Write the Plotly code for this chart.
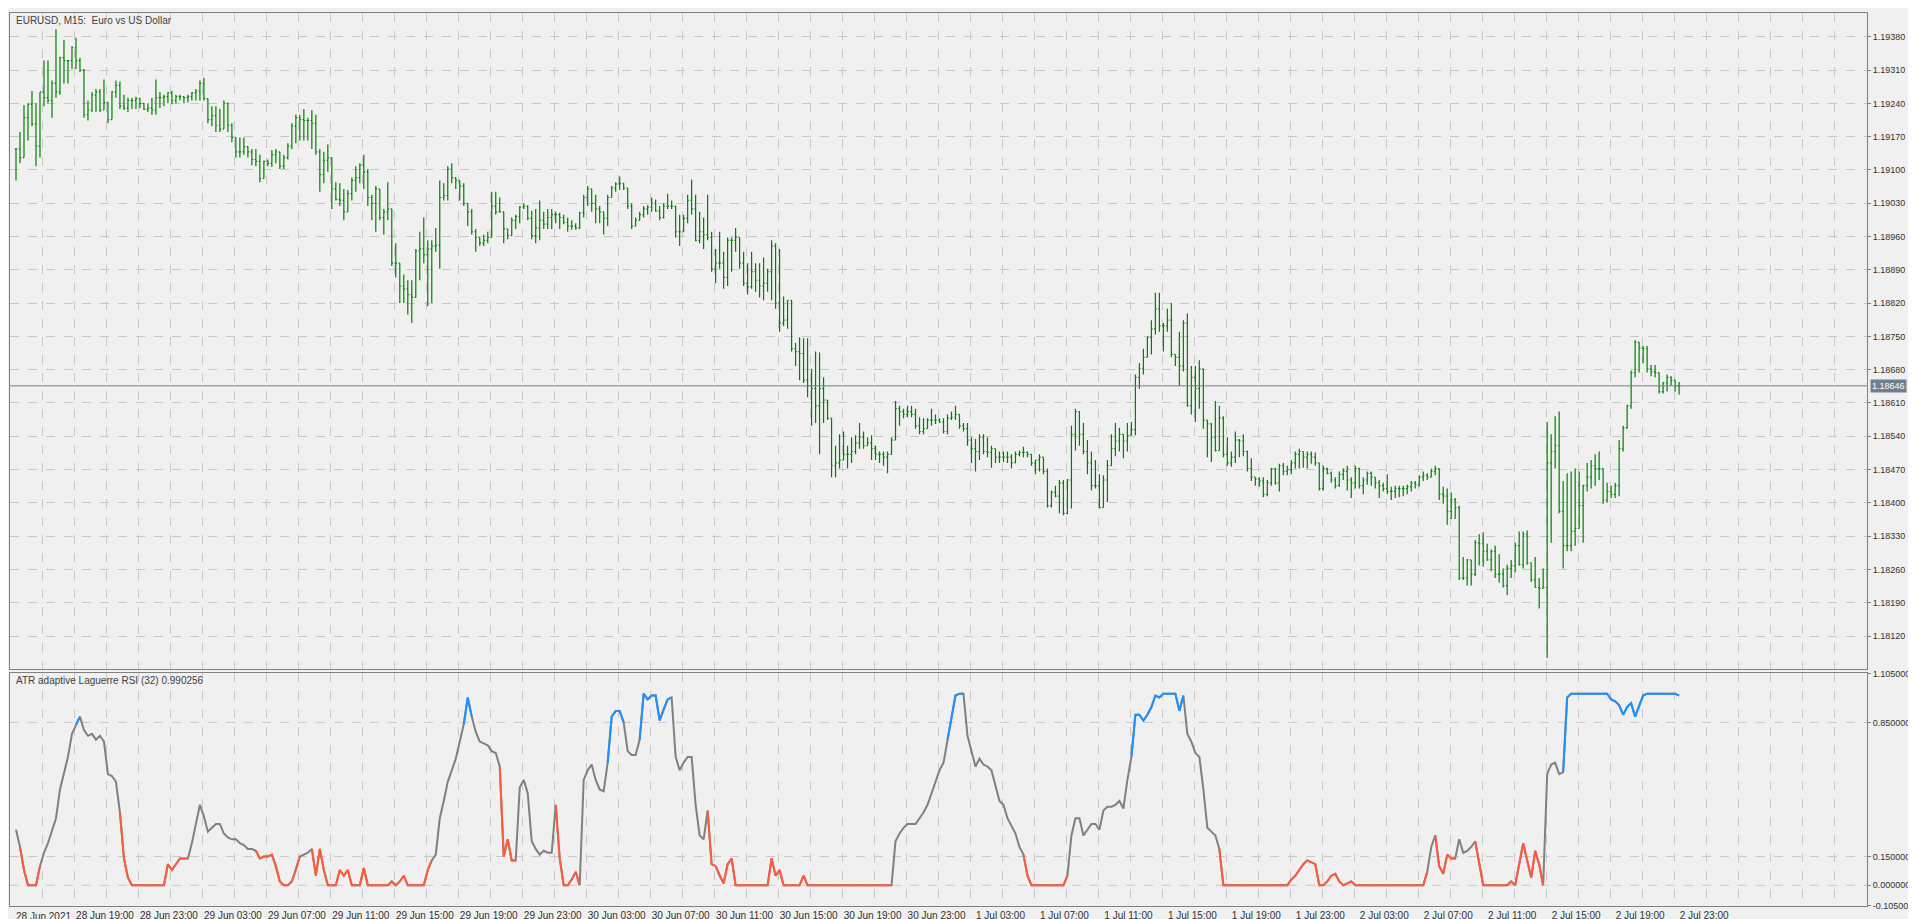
import plotly.graph_objects as go

# EURUSD M15 bars, prices in points (0.00001) above BASE
BASE = 1.18
high_pts = [
    1146, 1180, 1236, 1240, 1266, 1240, 1264, 1330, 1330, 1288, 1396, 1338, 1374, 1331, 1360, 1378, 1336, 1312, 1246, 1264,
    1270, 1270, 1290, 1240, 1266, 1288, 1286, 1258, 1252, 1252, 1254, 1252, 1240, 1240, 1252, 1290, 1264, 1258, 1264, 1266,
    1258, 1258, 1254, 1258, 1264, 1270, 1288, 1294, 1250, 1234, 1234, 1228, 1246, 1242, 1198, 1168, 1168, 1168, 1150, 1144,
    1144, 1132, 1120, 1122, 1142, 1144, 1138, 1132, 1156, 1198, 1216, 1216, 1228, 1210, 1226, 1216, 1144, 1138, 1154, 1126,
    1074, 1072, 1060, 1058, 1084, 1108, 1114, 1132, 1102, 1048, 1066, 1060, 1018, 1074, 1018, 946, 904, 880, 868, 868,
    934, 970, 1000, 952, 952, 978, 1078, 1072, 1108, 1114, 1084, 1078, 1072, 1030, 1018, 976, 958, 964, 970,
    1054, 1054, 1042, 1010, 976, 1000, 1006, 1024, 1030, 1026, 1014, 1018, 1036, 1012, 1018, 1018, 1012, 1010, 1006, 1000,
    994, 988, 1012, 1048, 1066, 1060, 1048, 1024, 1012, 1048, 1066, 1074, 1086, 1072, 1060, 1030, 1000, 1012, 1024, 1026,
    1042, 1038, 1024, 1030, 1050, 1036, 1024, 1006, 1006, 1048, 1080, 1048, 1012, 1000, 1048, 970, 934, 970, 928, 958,
    958, 978, 952, 928, 904, 928, 904, 904, 916, 892, 952, 946, 934, 834, 826, 826, 736, 748, 746, 746,
    682, 718, 716, 664, 616, 574, 520, 544, 550, 520, 538, 542, 568, 550, 538, 542, 520, 508, 508, 508,
    538, 614, 604, 598, 604, 604, 598, 580, 578, 578, 598, 586, 578, 578, 586, 592, 604, 586, 568,
    568, 538, 534, 544, 544, 538, 520, 514, 508, 508, 508, 502, 508, 510, 518, 508, 502, 490, 502, 496,
    472, 426, 436, 448, 448, 450, 562, 598, 592, 568, 532, 508, 490, 460, 458, 490, 544, 568, 558, 544,
    568, 570, 670, 694, 724, 750, 784, 842, 842, 778, 808, 820, 712, 760, 784, 798, 688, 688, 700, 682,
    570, 568, 614, 604, 582, 538, 508, 550, 534, 544, 510, 494, 454, 454, 454, 448, 474, 474, 482, 484,
    478, 490, 508, 514, 508, 508, 508, 506, 484, 478, 474, 466, 454, 466, 472, 478, 454, 478, 474, 454,
    466, 466, 454, 448, 442, 460, 434, 436, 436, 436, 438, 446, 446, 458, 466, 462, 472, 478, 472, 434,
    430, 422, 410, 394, 286, 282, 278, 322, 334, 338, 314, 302, 310, 292, 262, 270, 280, 316, 340, 340,
    342, 274, 286, 242, 262, 570, 544, 582, 592, 446, 462, 466, 472, 466, 438, 484, 490, 502, 508, 448,
    442, 436, 442, 532, 562, 606, 678, 742, 736, 730, 730, 690, 690, 674, 654, 670, 666, 654, 654,
]
low_pts = [
    1078, 1114, 1126, 1162, 1192, 1108, 1126, 1234, 1240, 1210, 1252, 1258, 1282, 1282, 1312, 1312, 1306, 1210, 1204, 1222,
    1222, 1222, 1240, 1198, 1210, 1252, 1228, 1226, 1222, 1228, 1228, 1230, 1226, 1222, 1216, 1216, 1230, 1234, 1240, 1238,
    1240, 1246, 1240, 1242, 1246, 1246, 1246, 1246, 1198, 1192, 1180, 1180, 1192, 1180, 1158, 1126, 1126, 1132, 1126, 1110,
    1108, 1074, 1084, 1108, 1106, 1114, 1102, 1102, 1122, 1144, 1156, 1162, 1162, 1162, 1144, 1132, 1054, 1072, 1096, 1018,
    1036, 1024, 994, 1012, 1036, 1054, 1072, 1060, 1024, 994, 970, 994, 964, 994, 898, 874, 820, 820, 796, 778,
    838, 868, 904, 814, 820, 928, 892, 1036, 1036, 1072, 1060, 1036, 1024, 982, 964, 928, 940, 940, 946,
    1002, 1006, 1012, 946, 954, 962, 976, 988, 1018, 994, 954, 946, 952, 976, 976, 976, 988, 976, 986, 970,
    974, 974, 976, 1000, 1024, 1012, 988, 988, 964, 982, 1042, 1054, 1058, 1058, 1018, 976, 982, 994, 1000, 1006,
    1012, 1012, 994, 998, 1018, 1018, 958, 940, 976, 988, 1006, 950, 946, 934, 952, 886, 862, 892, 850, 856,
    886, 928, 892, 856, 838, 850, 844, 832, 826, 844, 826, 808, 760, 772, 766, 718, 688, 658, 652, 622,
    562, 568, 502, 568, 574, 454, 454, 472, 496, 472, 484, 502, 514, 514, 520, 490, 490, 484, 478, 462,
    502, 532, 562, 578, 580, 580, 556, 544, 544, 556, 562, 566, 568, 546, 544, 574, 574, 556, 550,
    520, 484, 466, 490, 502, 496, 474, 484, 484, 486, 484, 472, 484, 498, 496, 496, 478, 460, 466, 460,
    390, 390, 412, 378, 374, 376, 388, 510, 520, 502, 460, 426, 430, 388, 394, 402, 478, 498, 508, 494,
    508, 544, 542, 640, 670, 706, 712, 754, 760, 718, 760, 706, 688, 646, 676, 602, 586, 570, 598, 556,
    496, 486, 508, 520, 496, 478, 476, 484, 496, 498, 466, 446, 436, 434, 412, 414, 436, 438, 424, 458,
    458, 460, 472, 472, 474, 472, 482, 478, 426, 426, 460, 442, 430, 434, 448, 426, 410, 430, 430, 418,
    438, 436, 430, 410, 424, 418, 406, 410, 412, 414, 418, 424, 430, 434, 446, 448, 454, 458, 406, 398,
    354, 366, 366, 238, 238, 226, 226, 246, 268, 266, 278, 256, 242, 232, 222, 206, 242, 254, 268, 262,
    270, 234, 222, 178, 220, 74, 316, 472, 378, 262, 298, 298, 310, 364, 316, 424, 430, 436, 448, 398,
    400, 410, 410, 414, 508, 556, 598, 664, 674, 694, 674, 666, 664, 630, 630, 634, 646, 634, 628,
]
close_pts = [
    1144, 1126, 1210, 1238, 1197, 1150, 1264, 1252, 1246, 1282, 1264, 1336, 1330, 1330, 1358, 1330, 1310, 1216, 1226, 1258,
    1264, 1226, 1242, 1206, 1264, 1278, 1234, 1230, 1246, 1246, 1250, 1240, 1228, 1230, 1226, 1252, 1252, 1254, 1262, 1246,
    1254, 1254, 1252, 1254, 1262, 1266, 1282, 1250, 1206, 1214, 1194, 1186, 1240, 1194, 1168, 1138, 1138, 1149, 1138, 1122,
    1118, 1082, 1118, 1114, 1132, 1138, 1108, 1126, 1150, 1192, 1210, 1206, 1204, 1204, 1198, 1138, 1090, 1120, 1126, 1060,
    1038, 1036, 1012, 1050, 1078, 1084, 1110, 1096, 1042, 1030, 1060, 1000, 1012, 1018, 904, 904, 856, 850, 838, 832,
    930, 934, 922, 934, 940, 942, 1042, 1046, 1102, 1084, 1078, 1066, 1030, 1012, 970, 958, 946, 952, 958,
    1024, 1012, 1012, 976, 962, 994, 1002, 1022, 1024, 998, 962, 978, 994, 986, 1000, 1006, 1006, 1000, 990, 982,
    982, 978, 1010, 1042, 1060, 1030, 1018, 1012, 998, 1042, 1062, 1070, 1072, 1062, 1024, 982, 994, 1006, 1018, 1022,
    1030, 1014, 1000, 1024, 1024, 1024, 970, 970, 998, 1036, 1018, 952, 970, 964, 958, 892, 904, 904, 874, 952,
    952, 958, 904, 862, 854, 886, 868, 856, 862, 886, 940, 820, 778, 784, 826, 724, 718, 714, 658, 646,
    640, 604, 640, 616, 578, 478, 484, 490, 502, 502, 508, 526, 538, 520, 526, 514, 502, 502, 496, 502,
    532, 598, 592, 586, 592, 586, 562, 550, 556, 574, 574, 574, 570, 550, 578, 580, 586, 562, 556,
    532, 514, 508, 538, 508, 506, 514, 496, 496, 496, 496, 484, 502, 506, 506, 502, 484, 490, 496, 466,
    394, 422, 414, 442, 378, 448, 544, 592, 544, 508, 484, 436, 436, 390, 448, 478, 514, 530, 544, 530,
    542, 554, 664, 682, 706, 748, 766, 808, 772, 772, 784, 712, 706, 688, 778, 604, 664, 640, 682, 574,
    566, 538, 510, 578, 502, 484, 496, 532, 530, 508, 472, 454, 450, 446, 418, 442, 472, 442, 478, 466,
    470, 484, 502, 508, 496, 502, 496, 484, 430, 472, 462, 448, 436, 460, 466, 448, 442, 472, 436, 448,
    462, 454, 442, 436, 430, 424, 424, 430, 430, 430, 434, 442, 438, 454, 458, 454, 466, 472, 418, 414,
    382, 406, 390, 242, 242, 280, 250, 316, 314, 298, 280, 298, 250, 250, 226, 262, 268, 310, 270, 334,
    274, 238, 222, 220, 222, 484, 508, 520, 382, 310, 310, 340, 346, 394, 436, 454, 478, 472, 472, 406,
    424, 418, 436, 514, 558, 604, 674, 738, 726, 724, 682, 676, 674, 634, 652, 664, 658, 646, 646,
]

# ATR adaptive Laguerre RSI (32)
rsi_values = [
    0.29, 0.20, 0.08, 0, 0, 0, 0.10, 0.17, 0.22, 0.29, 0.35, 0.50, 0.58, 0.67, 0.79, 0.84, 0.88, 0.81, 0.78, 0.79,
    0.76, 0.78, 0.75, 0.58, 0.57, 0.54, 0.38, 0.14, 0.04, 0, 0, 0, 0, 0, 0, 0, 0, 0, 0.11, 0.08,
    0.11, 0.14, 0.14, 0.14, 0.22, 0.32, 0.42, 0.36, 0.28, 0.30, 0.32, 0.32, 0.27, 0.25, 0.24, 0.24, 0.22, 0.21, 0.19, 0.19,
    0.18, 0.14, 0.15, 0.15, 0.16, 0.10, 0.02, 0, 0, 0.02, 0.08, 0.15, 0.16, 0.17, 0.19, 0.05, 0.19, 0.08, 0, 0,
    0, 0.08, 0.05, 0.08, 0, 0, 0, 0.09, 0, 0, 0, 0, 0, 0, 0.02, 0, 0.02, 0.05, 0, 0,
    0, 0, 0, 0.08, 0.13, 0.16, 0.35, 0.44, 0.54, 0.60, 0.66, 0.75, 0.84, 0.98, 0.88, 0.80, 0.75, 0.74, 0.73,
    0.70, 0.69, 0.62, 0.15, 0.24, 0.13, 0.13, 0.51, 0.55, 0.48, 0.23, 0.19, 0.16, 0.18, 0.17, 0.17, 0.42, 0.14, 0, 0,
    0.03, 0.07, 0, 0.55, 0.60, 0.63, 0.55, 0.50, 0.49, 0.64, 0.88, 0.91, 0.91, 0.85, 0.70, 0.68, 0.68, 0.76, 1.00, 0.97,
    0.99, 0.99, 0.86, 0.92, 0.97, 0.98, 0.67, 0.60, 0.64, 0.67, 0.67, 0.42, 0.26, 0.24, 0.39, 0.11, 0.10, 0.05, 0.01, 0.11,
    0.14, 0, 0, 0, 0, 0, 0, 0, 0, 0, 0.14, 0.05, 0.08, 0, 0, 0, 0, 0, 0.05, 0,
    0, 0, 0, 0, 0, 0, 0, 0, 0, 0, 0, 0, 0, 0, 0, 0, 0, 0, 0, 0,
    0, 0.23, 0.27, 0.30, 0.32, 0.32, 0.32, 0.35, 0.38, 0.42, 0.48, 0.54, 0.60, 0.64, 0.76, 0.88, 0.99, 1.00, 1.00,
    0.78, 0.70, 0.62, 0.66, 0.63, 0.62, 0.60, 0.52, 0.44, 0.42, 0.35, 0.31, 0.27, 0.20, 0.16, 0.05, 0, 0, 0, 0,
    0, 0, 0, 0, 0, 0.05, 0.26, 0.35, 0.35, 0.26, 0.29, 0.32, 0.32, 0.29, 0.39, 0.41, 0.41, 0.42, 0.44, 0.40,
    0.55, 0.67, 0.89, 0.89, 0.86, 0.89, 0.93, 0.99, 0.98, 1.00, 1.00, 1.00, 1.00, 0.91, 0.99, 0.79, 0.75, 0.69, 0.67, 0.50,
    0.30, 0.28, 0.26, 0.19, 0, 0, 0, 0, 0, 0, 0, 0, 0, 0, 0, 0, 0, 0, 0, 0,
    0, 0.03, 0.05, 0.08, 0.11, 0.13, 0.12, 0.11, 0, 0, 0.02, 0.05, 0.06, 0.02, 0, 0.01, 0.02, 0, 0, 0,
    0, 0, 0, 0, 0, 0, 0, 0, 0, 0, 0, 0, 0, 0, 0, 0.07, 0.20, 0.26, 0.10, 0.06,
    0.16, 0.14, 0.14, 0.24, 0.17, 0.18, 0.20, 0.23, 0.11, 0, 0, 0, 0, 0, 0, 0, 0.02, 0, 0.11, 0.22,
    0.13, 0.04, 0.18, 0.11, 0, 0.58, 0.63, 0.64, 0.58, 0.59, 0.98, 1.00, 1.00, 1.00, 1.00, 1.00, 1.00, 1.00, 1.00, 1.00,
    1.00, 0.97, 0.96, 0.94, 0.89, 0.93, 0.95, 0.88, 0.93, 0.99, 1.00, 1.00, 1.00, 1.00, 1.00, 1.00, 1.00, 1.00, 0.99,
]

time_labels = [
    "28 Jun 19:00", "28 Jun 23:00", "29 Jun 03:00", "29 Jun 07:00", "29 Jun 11:00", "29 Jun 15:00",
    "29 Jun 19:00", "29 Jun 23:00", "30 Jun 03:00", "30 Jun 07:00", "30 Jun 11:00", "30 Jun 15:00",
    "30 Jun 19:00", "30 Jun 23:00", "1 Jul 03:00", "1 Jul 07:00", "1 Jul 11:00", "1 Jul 15:00",
    "1 Jul 19:00", "1 Jul 23:00", "2 Jul 03:00", "2 Jul 07:00", "2 Jul 11:00", "2 Jul 15:00",
    "2 Jul 19:00", "2 Jul 23:00",
]
price_ticks = [1.18120, 1.18190, 1.18260, 1.18330, 1.18400, 1.18470, 1.18540, 1.18610, 1.18680,
               1.18750, 1.18820, 1.18890, 1.18960, 1.19030, 1.19100, 1.19170, 1.19240, 1.19310, 1.19380]
rsi_ticks = [-0.105, 0.0, 0.15, 0.85, 1.105]
last_price = 1.18646

n = len(close_pts)
idx = list(range(n))
close = [BASE + p / 1e5 for p in close_pts]
high = [BASE + p / 1e5 for p in high_pts]
low = [BASE + p / 1e5 for p in low_pts]
opens = [close[0]] + close[:-1]
high = [max(h, o, c) for h, o, c in zip(high, opens, close)]
low = [min(l, o, c) for l, o, c in zip(low, opens, close)]

GREEN = "#008000"
GRID = "#c8c8c8"
FRAME = "#808080"
FONT = "Liberation Sans, Arial"

fig = go.Figure()
fig.add_trace(go.Ohlc(
    x=idx, open=opens, high=high, low=low, close=close,
    increasing=dict(line=dict(color=GREEN, width=1.2)),
    decreasing=dict(line=dict(color=GREEN, width=1.2)),
    tickwidth=0.3, xaxis="x2", yaxis="y2", hoverinfo="skip",
))

# colour the indicator line by level
def colour(v):
    if v >= 0.85:
        return "blue"
    if v <= 0.15:
        return "red"
    return "gray"

cols = [colour(v) for v in rsi_values]
fig.add_trace(go.Scatter(x=idx, y=rsi_values, mode="lines",
                         line=dict(color="#808080", width=2), hoverinfo="skip"))
for name, c in [("red", "#ff5a3c"), ("blue", "#1e90ff")]:
    ys = [None] * n
    for i in range(n):
        if cols[i] == name:
            ys[i] = rsi_values[i]
            if i > 0:
                ys[i - 1] = rsi_values[i - 1]
    fig.add_trace(go.Scatter(x=idx, y=ys, mode="lines", connectgaps=False,
                             line=dict(color=c, width=2), hoverinfo="skip"))

grid_x = [6.75 + 8 * k for k in range(58)]
grid_text = []
for k in range(len(grid_x)):
    if k % 2 == 1 and k // 2 < len(time_labels):
        grid_text.append(time_labels[k // 2])
    else:
        grid_text.append("")

xcommon = dict(range=[-1.5, 463], showgrid=True, gridcolor=GRID, griddash="dash",
               tickvals=grid_x, zeroline=False, showline=True, linecolor=FRAME,
               mirror=True)
fig.update_layout(
    width=1916, height=919,
    paper_bgcolor="#f0f0f0", plot_bgcolor="#f0f0f0",
    margin=dict(l=1, r=57, t=2, b=21),
    showlegend=False,
    font=dict(family=FONT, size=10, color="#303030"),
    xaxis=dict(xcommon, domain=[0, 1], ticktext=grid_text, anchor="y",
               ticks="", ticklabelshift=30, tickfont=dict(size=10)),
    xaxis2=dict(xcommon, domain=[0, 1], ticktext=[""] * len(grid_x), anchor="y2",
                matches="x", showticklabels=False),
    yaxis=dict(domain=[0, 0.261], range=[-0.108, 1.108], side="right",
               tickvals=rsi_ticks, ticktext=["%.6f" % v for v in rsi_ticks],
               showgrid=False, zeroline=False, showline=True, linecolor=FRAME,
               mirror=True, ticks="outside", ticklen=3, tickcolor=FRAME,
               tickfont=dict(size=9)),
    yaxis2=dict(domain=[0.2656, 1], range=[1.18051, 1.19430], side="right",
                tickvals=price_ticks, ticktext=["%.5f" % v for v in price_ticks],
                showgrid=True, gridcolor=GRID, griddash="dash", zeroline=False,
                showline=True, linecolor=FRAME, mirror=True, ticks="outside",
                ticklen=3, tickcolor=FRAME, tickfont=dict(size=9)),
)
fig.update_xaxes(rangeslider_visible=False)

for lv in [0.0, 0.15, 0.85]:
    fig.add_shape(type="line", xref="x domain", yref="y", x0=0, x1=1, y0=lv, y1=lv,
                  line=dict(color=GRID, width=1, dash="dash"), layer="below")

fig.add_shape(type="line", xref="x2 domain", yref="y2", x0=0, x1=1, y0=last_price, y1=last_price,
              line=dict(color="#6f7f8f", width=1))
fig.add_annotation(xref="paper", yref="y2", x=1.0, y=last_price, xanchor="left", xshift=3,
                   text="%.5f" % last_price, showarrow=False, bgcolor="#6f7f8f",
                   font=dict(color="white", size=9), borderpad=1)
fig.add_annotation(xref="paper", yref="paper", x=0.002, y=1.0, xanchor="left", yanchor="top",
                   text="EURUSD, M15:  Euro vs US Dollar", showarrow=False,
                   font=dict(size=10, color="#404040"))
fig.add_annotation(xref="paper", yref="paper", x=0.002, y=0.261, xanchor="left", yanchor="top",
                   text="ATR adaptive Laguerre RSI (32) 0.990256", showarrow=False,
                   font=dict(size=10, color="#404040"))
fig.add_annotation(xref="paper", yref="paper", x=0.002, y=0, xanchor="left", yanchor="top",
                   yshift=-3, text="28 Jun 2021", showarrow=False,
                   font=dict(size=10, color="#303030"))

fig.write_html("out.html")
